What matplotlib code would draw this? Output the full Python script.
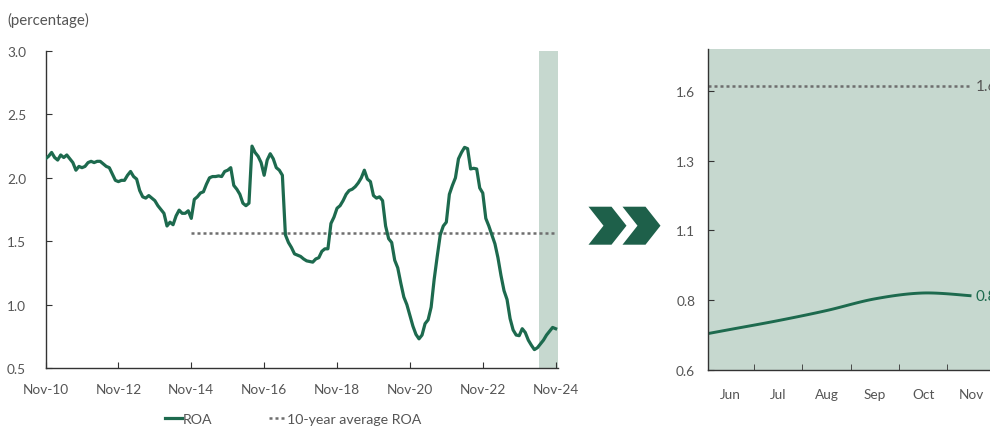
import numpy as np
import matplotlib.pyplot as plt
from matplotlib.patches import Polygon
from matplotlib.ticker import FuncFormatter

plt.rcParams['font.family'] = ['Lato', 'DejaVu Sans']
plt.rcParams['font.size'] = 9.5

GREEN = '#1d6a4e'
SHADE = '#c6d8cf'
GREY = '#6e6e6e'
TXT = '#555555'

# monthly ROA, Nov-10 .. Nov-24
roa = [2.15, 2.17, 2.20, 2.16, 2.14, 2.18, 2.16, 2.18, 2.15, 2.12,
       2.06, 2.09, 2.08, 2.09, 2.12, 2.13, 2.12, 2.13, 2.13, 2.11,
       2.09, 2.08, 2.03, 1.98, 1.97, 1.98, 1.98, 2.02, 2.05, 2.01,
       1.99, 1.90, 1.85, 1.84, 1.86, 1.84, 1.82, 1.78, 1.75, 1.72,
       1.62, 1.65, 1.63, 1.70, 1.745, 1.72, 1.72, 1.74, 1.68, 1.83,
       1.85, 1.88, 1.89, 1.95, 2.00, 2.01, 2.01, 2.015, 2.01, 2.05,
       2.06, 2.08, 1.94, 1.91, 1.87, 1.80, 1.78, 1.80, 2.25, 2.20,
       2.17, 2.12, 2.02, 2.14, 2.19, 2.15, 2.08, 2.06, 2.02, 1.55,
       1.49, 1.45, 1.40, 1.39, 1.38, 1.36, 1.345, 1.34, 1.335, 1.36,
       1.37, 1.42, 1.44, 1.44, 1.64, 1.69, 1.76, 1.78, 1.82, 1.87,
       1.90, 1.91, 1.93, 1.96, 2.00, 2.06, 1.99, 1.97, 1.86, 1.84,
       1.85, 1.82, 1.62, 1.52, 1.49, 1.35, 1.29, 1.17, 1.06, 1.00,
       0.915, 0.83, 0.765, 0.73, 0.76, 0.85, 0.88, 0.98, 1.20, 1.38,
       1.55, 1.62, 1.65, 1.87, 1.94, 2.00, 2.15, 2.20, 2.24, 2.23,
       2.07, 2.075, 2.07, 1.92, 1.88, 1.68, 1.62, 1.55, 1.48, 1.37,
       1.23, 1.11, 1.04, 0.89, 0.80, 0.76, 0.755, 0.81, 0.78, 0.72,
       0.68, 0.645, 0.66, 0.69, 0.72, 0.76, 0.79, 0.82, 0.81]
avg_roa = 1.565
avg_start = 48          # Nov-14
shade_start = 163       # Jun-24
tick_labels = ['Nov-10', 'Nov-12', 'Nov-14', 'Nov-16', 'Nov-18',
               'Nov-20', 'Nov-22', 'Nov-24']

# last six months, close-up
months = ['Jun', 'Jul', 'Aug', 'Sep', 'Oct', 'Nov']
roa_recent = [0.744, 0.776, 0.812, 0.854, 0.875, 0.865]
roa_may = 0.712
avg_recent = 1.616


def smooth(xs, ys, n=20):
    # Catmull-Rom through the points
    xs = np.asarray(xs, float)
    ys = np.asarray(ys, float)
    px = np.r_[xs[0], xs, xs[-1]]
    py = np.r_[ys[0], ys, ys[-1]]
    ox, oy = [], []
    for i in range(1, len(px) - 2):
        t = np.linspace(0, 1, n, endpoint=False)
        for p, out in ((px, ox), (py, oy)):
            p0, p1, p2, p3 = p[i - 1], p[i], p[i + 1], p[i + 2]
            out.extend(0.5 * (2 * p1 + (-p0 + p2) * t
                              + (2 * p0 - 5 * p1 + 4 * p2 - p3) * t ** 2
                              + (-p0 + 3 * p1 - 3 * p2 + p3) * t ** 3))
    ox.append(xs[-1])
    oy.append(ys[-1])
    return ox, oy


fig = plt.figure(figsize=(9.9, 4.27), dpi=100)

# ---- long history ----
ax = fig.add_axes([0.046, 0.1358, 0.5177, 0.7424])
x = np.arange(len(roa))
ax.axvspan(shade_start - 0.5, 168.8, color=SHADE, lw=0, zorder=0)
ax.plot(x, roa, color=GREEN, lw=2.3, label='ROA', zorder=3,
        solid_joinstyle='round')
ax.plot([avg_start, len(roa) - 1], [avg_roa, avg_roa], color=GREY, lw=1.8,
        ls=(0, (1.2, 1.2)), label='10-year average ROA', zorder=2)
ax.set_xlim(0, 168.8)
ax.set_ylim(0.5, 3.0)
ax.set_xticks(np.arange(0, 169, 24))
ax.set_xticklabels(tick_labels)
ax.set_yticks(np.arange(0.5, 3.01, 0.5))
ax.yaxis.set_major_formatter(FuncFormatter(lambda v, _: f'{v:.1f}'))
for s in ('top', 'right'):
    ax.spines[s].set_visible(False)
for s in ('left', 'bottom'):
    ax.spines[s].set_color('#333333')
    ax.spines[s].set_linewidth(1.0)
ax.tick_params(axis='x', direction='in', length=4, pad=11, colors='#333333',
               labelcolor=TXT, labelsize=9.8)
ax.tick_params(axis='y', direction='in', length=4, pad=14, colors='#333333',
               labelcolor=TXT, labelsize=9.8)
fig.text(0.007, 0.953, '(percentage)', color=TXT, fontsize=10.8, va='center')

fig.legend(loc='center', bbox_to_anchor=(0.2965, 0.016), ncol=2,
           frameon=False, handlelength=1.15, handletextpad=0.1,
           columnspacing=4.0, borderpad=0, fontsize=10.2, labelcolor=TXT)

# ---- arrows between the panels ----
chevron = [(0, 0), (23, 0), (38, 19), (23, 38), (0, 38), (15, 19)]
for x0 in (588.5, 622.5):
    pts = [((x0 + dx) / 990, 1 - (207.7 + dy) / 427) for dx, dy in chevron]
    fig.add_artist(Polygon(pts, closed=True, color='#1e604a', lw=0))

# ---- close-up on last six months ----
ax2 = fig.add_axes([0.7148, 0.1319, 0.2909, 0.7510])
ax2.set_facecolor(SHADE)
xm = np.arange(len(months))
sx, sy = smooth(np.r_[-1, xm], np.r_[roa_may, roa_recent])
ax2.plot(sx, sy, color=GREEN, lw=2.1, solid_capstyle='butt')
ax2.plot([-0.46, xm[-1]], [avg_recent, avg_recent], color=GREY, lw=1.8,
         ls=(0, (1.2, 1.2)))
ax2.text(xm[-1] + 0.08, avg_recent, f'{avg_recent:.2f}', color=TXT,
         va='center', ha='left', fontsize=11)
ax2.text(xm[-1] + 0.08, roa_recent[-1], f'{roa_recent[-1]:.2f}', color=GREEN,
         va='center', ha='left', fontsize=11)
ax2.set_xlim(-0.46, 5.5)
ax2.set_ylim(0.6, 1.75)
ax2.set_xticks(xm)
ax2.set_xticklabels(months)
ax2.set_xticks(xm[:-1] + 0.5, minor=True)
ax2.tick_params(axis='x', which='major', length=0, pad=13, labelcolor=TXT,
                labelsize=9.8)
ax2.tick_params(axis='x', which='minor', direction='in', length=4,
                colors='#333333')
yt = np.linspace(0.6, 1.6, 5)
ax2.set_yticks(yt)
ax2.yaxis.set_major_formatter(
    FuncFormatter(lambda v, _: f'{np.floor(v * 10 + 1e-6) / 10:.1f}'))
ax2.tick_params(axis='y', direction='in', length=4, pad=9, colors='#333333',
                labelcolor=TXT, labelsize=9.8)
for s in ('top', 'right'):
    ax2.spines[s].set_visible(False)
for s in ('left', 'bottom'):
    ax2.spines[s].set_color('#333333')
    ax2.spines[s].set_linewidth(1.0)

fig.savefig('out.png', dpi=100)
